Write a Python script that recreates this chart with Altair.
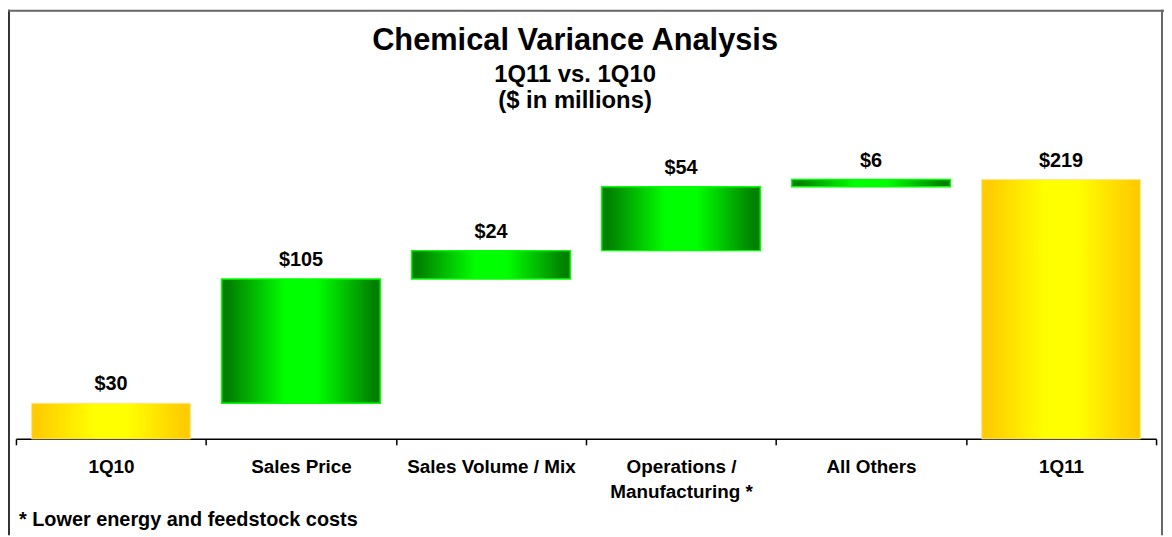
import altair as alt
import pandas as pd

# ---- data ----
categories = ["1Q10", "Sales Price", "Sales Volume / Mix", "Operations /\nManufacturing *", "All Others", "1Q11"]
values = [30, 105, 24, 54, 6, 219]
kinds = ["total", "delta", "delta", "delta", "delta", "total"]
value_labels = ["$30", "$105", "$24", "$54", "$6", "$219"]

title_line1 = "Chemical Variance Analysis"
title_line2 = "1Q11 vs. 1Q10"
title_line3 = "($ in millions)"
footnote = "* Lower energy and feedstock costs"

# build waterfall table
starts, ends = [], []
running = 0
for v, k in zip(values, kinds):
    if k == "total":
        starts.append(0)
        ends.append(v)
        running = v
    else:
        starts.append(running)
        ends.append(running + v)
        running += v

df = pd.DataFrame({
    "category": categories,
    "value": values,
    "kind": kinds,
    "start": starts,
    "end": ends,
    "label": value_labels,
})
one = pd.DataFrame({"k": [0]})

FONT = "Liberation Sans"
W, H = 1148, 298
PAD = {"left": 8, "top": 134, "right": 8, "bottom": 97}

green = alt.LinearGradient(
    gradient="linear", x1=0, x2=1, y1=0, y2=0,
    stops=[
        alt.GradientStop(color="#008000", offset=0),
        alt.GradientStop(color="#008000", offset=0.04),
        alt.GradientStop(color="#00FF00", offset=0.4),
        alt.GradientStop(color="#00FF00", offset=0.6),
        alt.GradientStop(color="#008000", offset=0.96),
        alt.GradientStop(color="#008000", offset=1),
    ],
)
gold = alt.LinearGradient(
    gradient="linear", x1=0, x2=1, y1=0, y2=0,
    stops=[
        alt.GradientStop(color="#FFCC00", offset=0),
        alt.GradientStop(color="#FFCC00", offset=0.04),
        alt.GradientStop(color="#FFFF00", offset=0.4),
        alt.GradientStop(color="#FFFF00", offset=0.6),
        alt.GradientStop(color="#FFCC00", offset=0.96),
        alt.GradientStop(color="#FFCC00", offset=1),
    ],
)

x_enc = alt.X(
    "category:N",
    sort=categories,
    scale=alt.Scale(paddingInner=0, paddingOuter=0),
    axis=alt.Axis(
        title=None,
        labelAngle=0,
        labelFont=FONT,
        labelFontSize=19,
        labelFontWeight="bold",
        labelColor="black",
        labelPadding=13,
        labelLineHeight=25,
        labelLimit=300,
        labelExpr="split(datum.label, '\\n')",
        domainColor="black",
        domainWidth=1.5,
        tickColor="black",
        tickWidth=1.5,
        tickSize=6,
        tickBand="extent",
    ),
)
y_scale = alt.Scale(domain=[0, 250], nice=False, zero=True)

base = alt.Chart(df)

total_bars = base.transform_filter(alt.datum.kind == "total").mark_bar(
    fill=gold, stroke="#FFE680", strokeWidth=1, width=alt.RelativeBandSize(0.835)
).encode(
    x=x_enc,
    y=alt.Y("start:Q", scale=y_scale, axis=None),
    y2="end:Q",
)

delta_bars = base.transform_filter(alt.datum.kind == "delta").mark_bar(
    fill=green, stroke="#00FF00", strokeWidth=1.5, width=alt.RelativeBandSize(0.835)
).encode(
    x=x_enc,
    y=alt.Y("start:Q", scale=y_scale, axis=None),
    y2="end:Q",
)

bar_labels = base.mark_text(
    font=FONT, fontSize=20, fontWeight="bold", color="black",
    baseline="alphabetic", dy=-13,
).encode(
    x=x_enc,
    y=alt.Y("end:Q", scale=y_scale, axis=None),
    text="label:N",
)

def title_text(txt, size, y):
    return alt.Chart(one).mark_text(
        text=txt, font=FONT, fontSize=size, fontWeight="bold", color="black",
        align="center", baseline="alphabetic",
    ).encode(x=alt.value(563), y=alt.value(y))

t1 = title_text(title_line1, 31, -94)
t2 = title_text(title_line2, 24, -61)
t3 = title_text(title_line3, 24, -35)

foot = alt.Chart(one).mark_text(
    text=footnote, font=FONT, fontSize=20, fontWeight="bold", color="black",
    align="left", baseline="alphabetic",
).encode(x=alt.value(3), y=alt.value(386))

border_left = alt.Chart(one).mark_rule(color="#333333", strokeWidth=2).encode(
    x=alt.value(-7), y=alt.value(-134), y2=alt.value(H + PAD["bottom"])
)
border_top = alt.Chart(one).mark_rule(color="#666666", strokeWidth=2).encode(
    x=alt.value(-8), x2=alt.value(W + 8), y=alt.value(-133)
)
border_right = alt.Chart(one).mark_rule(color="#666666", strokeWidth=2).encode(
    x=alt.value(W + 6), y=alt.value(-134), y2=alt.value(H + PAD["bottom"])
)

chart = alt.layer(
    total_bars, delta_bars, bar_labels, t1, t2, t3, foot,
    border_left, border_top, border_right,
).properties(
    width=W, height=H, padding=PAD, autosize=alt.AutoSizeParams(type="none"),
    background="white",
).configure_view(strokeWidth=0)

chart.save("out.html", embed_options={"renderer": "svg", "actions": False})
